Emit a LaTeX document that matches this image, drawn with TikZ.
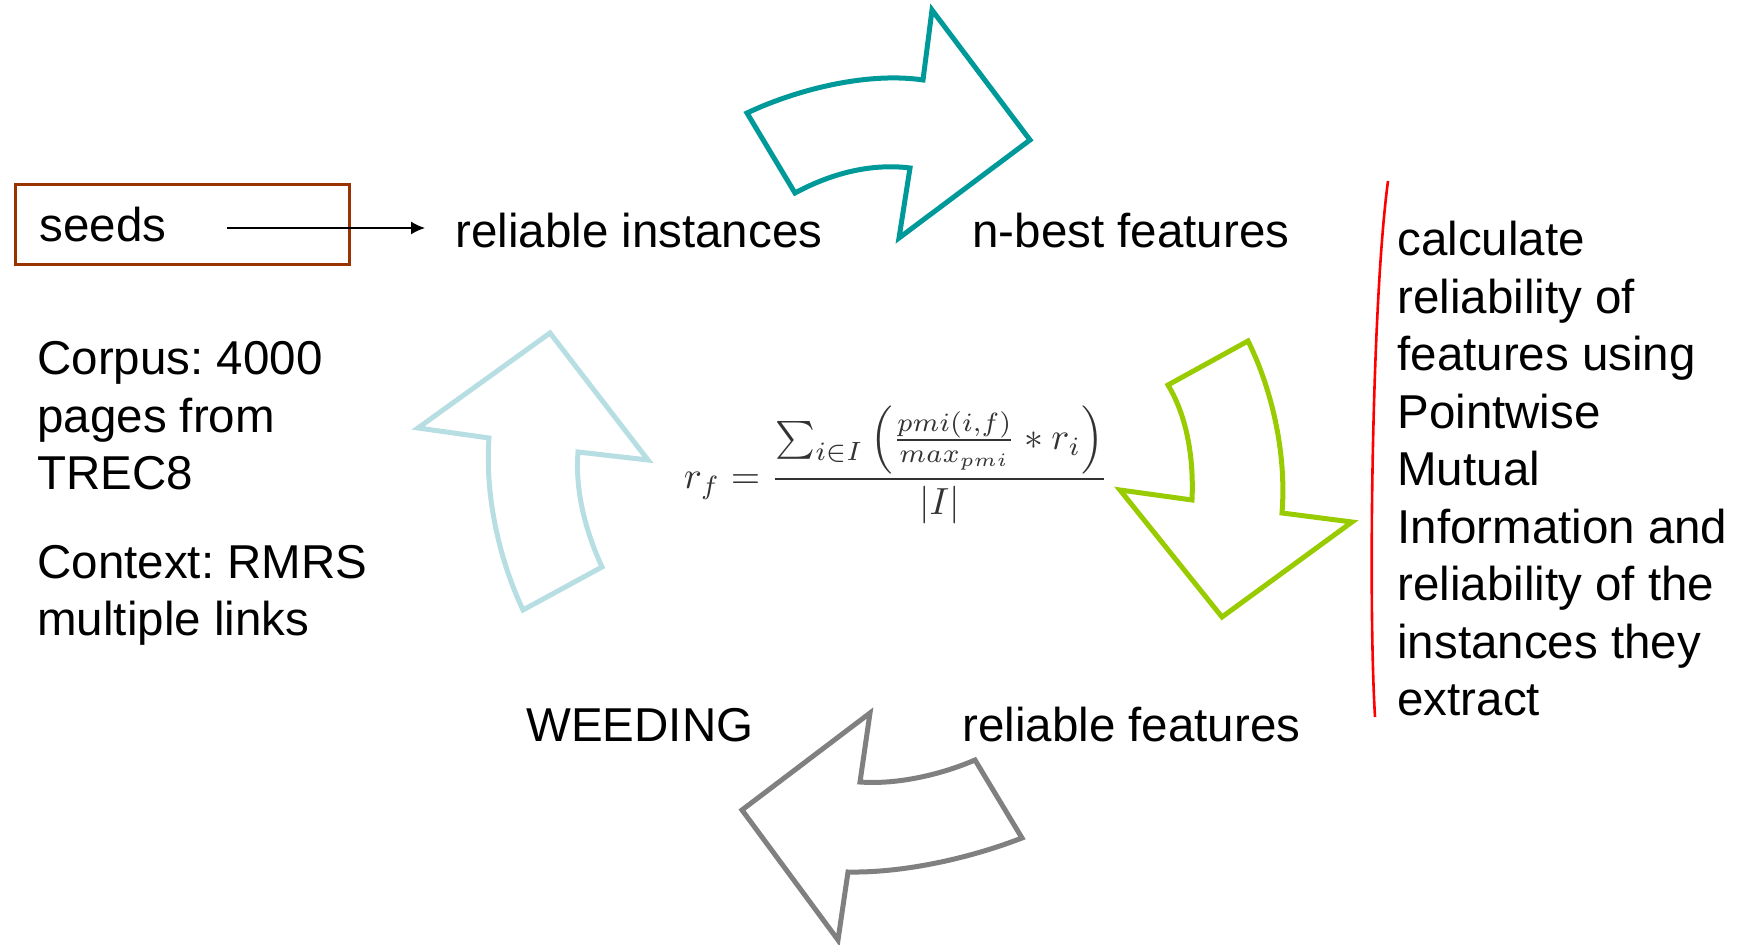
\documentclass[tikz,border=0pt]{standalone}
\usepackage[no-math]{fontspec}
\setmainfont{Liberation Sans}
\usepackage{amsmath}
\usetikzlibrary{arrows.meta}
\definecolor{tealarrow}{HTML}{009999}
\definecolor{greenarrow}{HTML}{99CC00}
\definecolor{grayarrow}{HTML}{808080}
\definecolor{paleblue}{HTML}{B7DEE3}
\definecolor{seedbrown}{HTML}{993300}
\newcommand{\bigtxt}{\fontsize{23.75pt}{28.75pt}\selectfont\frenchspacing}

\begin{document}
\begin{tikzpicture}[x=0.5pt,y=-0.5pt,
  lbl/.style={anchor=base west,inner sep=0pt,font=\bigtxt,align=left},
  blockarrow/.style={line width=2.5pt,line join=miter}]
\useasboundingbox (0,0) rectangle (1740,945);

% seeds box
\node (A1) [draw=seedbrown,line width=1.5pt,anchor=north west,
  minimum width=167pt,minimum height=40pt,text width=143pt,
  inner xsep=12pt,align=left,font=\bigtxt] at (14,183) {seeds};

% the four corners of the cycle
\node (A2) [lbl] at (455,248) {reliable instances};
\node (A3) [lbl] at (972,248) {n-best features};
\node (A4) [lbl] at (962,741) {reliable features};
\node (A5) [lbl] at (526,741) {WEEDING};

% left notes (base = last line)
\node (A6) [lbl] at (37,490) {Corpus: 4000\\pages from\\TREC8};
\node (A7) [lbl] at (37,636) {Context: RMRS\\multiple links};

% right note
\node (A8) [lbl] at (1397,716) {calculate\\reliability of\\features using\\Pointwise\\Mutual\\Information and\\reliability of the\\instances they\\extract};

% formula
\node (A9) [text=black!80] at (896,465)
  {\scalebox{1.89}{$\displaystyle r_f=\frac{\sum_{i\in I}\left(\frac{pmi(i,f)}{max_{pmi}}*r_i\right)}{|I|}$}};

% seeds to instances
\coordinate (B0) at (227,228);
\draw [-{Latex[length=7pt,width=6.5pt]},line width=0.8pt,shorten >=15pt] (B0) -- (B0 -| A2.west);

% red bracket
\draw [red,line width=1.3pt] (1388,181) .. controls (1372,300) and (1368,600) .. (1375,717);

% teal arrow: instances to features
\draw [blockarrow,tealarrow] (747,113) .. controls (800,88) and (870,72) .. (923,80)
  -- (932,10) -- (1030,140) -- (899,238) -- (910,168)
  .. controls (870,163) and (830,174) .. (795,193) -- cycle;

% green arrow: down the right side
\draw [blockarrow,greenarrow] (1168,385) -- (1248,341)
  .. controls (1270,385) and (1287,450) .. (1282,513)
  -- (1352,522) -- (1222,617) -- (1120,490) -- (1192,500)
  .. controls (1194,455) and (1186,415) .. cycle;

% gray arrow: features to weeding
\draw [blockarrow,grayarrow] (975,760) -- (1022,838)
  .. controls (965,860) and (900,873) .. (848,872)
  -- (838,940) -- (742,810) -- (870,713) -- (860,782)
  .. controls (900,785) and (945,773) .. cycle;

% pale arrow: back up the left side
\draw [blockarrow,paleblue] (523,610) -- (602,567)
  .. controls (585,530) and (575,490) .. (578,452)
  -- (648,460) -- (550,333) -- (418,428) -- (489,438)
  .. controls (485,490) and (497,555) .. cycle;

\end{tikzpicture}
\end{document}
